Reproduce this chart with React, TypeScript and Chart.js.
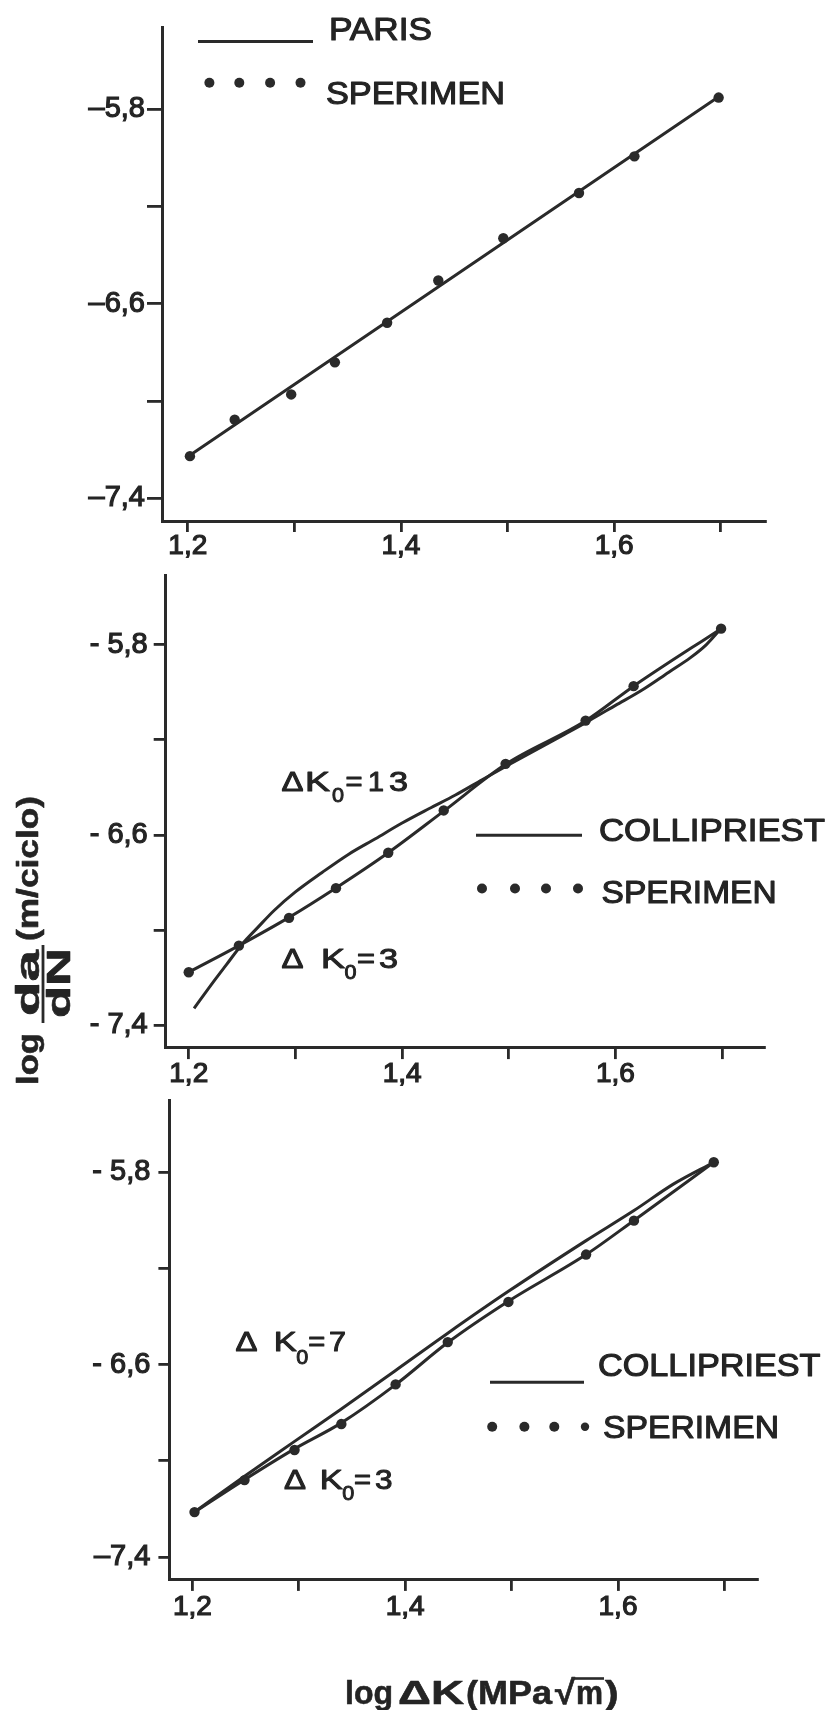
import React, { useEffect, useRef } from "react";
import { Chart, registerables } from "chart.js";

Chart.register(...registerables);

// ---------- tick definitions ----------
const xTickValues = [1.2, 1.3, 1.4, 1.5, 1.6, 1.7];
const xTickLabels = ["1,2", "", "1,4", "", "1,6", ""];
const yTickValues = [-7.4, -7.0, -6.6, -6.2, -5.8];
const p1YTickLabels = ["\u20137,4", "", "\u20136,6", "", "\u20135,8"];
const p2YTickLabels = ["- 7,4", "", "- 6,6", "", "- 5,8"];
const p3YTickLabels = ["\u20137,4", "", "- 6,6", "", "- 5,8"];

// ---------- panel 1 : PARIS ----------
const p1ExpX = [1.202, 1.244, 1.297, 1.338, 1.387, 1.435, 1.496, 1.567, 1.619, 1.698];
const p1ExpY = [-7.227, -7.077, -6.973, -6.841, -6.678, -6.504, -6.33, -6.144, -5.993, -5.751];
const parisX = [1.202, 1.698];
const parisY = [-7.223, -5.748];

// ---------- panel 2 : COLLIPRIEST dK0 = 3 / 13 ----------
const p2ExpX = [1.2, 1.247, 1.294, 1.338, 1.387, 1.439, 1.497, 1.572, 1.617, 1.699];
const p2ExpY = [-7.178, -7.066, -6.949, -6.824, -6.675, -6.497, -6.301, -6.119, -5.974, -5.732];
const p2K3X = [1.2, 1.247, 1.294, 1.338, 1.387, 1.439, 1.497, 1.572, 1.617, 1.699];
const p2K3Y = [-7.178, -7.066, -6.947, -6.823, -6.675, -6.5, -6.303, -6.12, -5.974, -5.732];
const p2K13X = [1.205, 1.215, 1.225, 1.235, 1.25, 1.265, 1.28, 1.3, 1.325, 1.35, 1.375, 1.4, 1.425, 1.45, 1.475, 1.5, 1.525, 1.55, 1.575, 1.6, 1.625, 1.65, 1.67, 1.685, 1.699];
const p2K13Y = [-7.33, -7.268, -7.207, -7.148, -7.06, -6.988, -6.918, -6.84, -6.758, -6.681, -6.616, -6.55, -6.49, -6.432, -6.368, -6.305, -6.243, -6.182, -6.12, -6.055, -5.99, -5.915, -5.855, -5.8, -5.731];

// ---------- panel 3 : COLLIPRIEST dK0 = 3 / 7 ----------
const p3ExpX = [1.202, 1.249, 1.296, 1.34, 1.391, 1.44, 1.497, 1.57, 1.615, 1.69];
const p3ExpY = [-7.213, -7.08, -6.955, -6.847, -6.682, -6.506, -6.339, -6.142, -6.001, -5.758];
const p3K3X = [1.202, 1.249, 1.296, 1.34, 1.391, 1.44, 1.497, 1.57, 1.615, 1.69];
const p3K3Y = [-7.213, -7.078, -6.95, -6.842, -6.683, -6.508, -6.336, -6.142, -6.0, -5.758];
const p3K7X = [1.202, 1.248, 1.295, 1.339, 1.39, 1.44, 1.497, 1.57, 1.615, 1.652, 1.69];
const p3K7Y = [-7.213, -7.067, -6.922, -6.787, -6.627, -6.469, -6.295, -6.084, -5.959, -5.849, -5.758];

// ---------- styling ----------
const INK = "#2a2a2a";
const TEXT = "#242424";
const FONT = "'Liberation Sans', Arial, Helvetica, sans-serif";

const xy = (xs: number[], ys: number[]) => xs.map((x, i) => ({ x, y: ys[i] }));

const lineDs = (xs: number[], ys: number[]) => ({
  data: xy(xs, ys),
  showLine: true,
  borderColor: INK,
  borderWidth: 3,
  pointRadius: 0,
  pointHoverRadius: 0,
  cubicInterpolationMode: "monotone",
  fill: false,
});

const dotDs = (xs: number[], ys: number[]) => ({
  data: xy(xs, ys),
  showLine: false,
  pointRadius: 5.2,
  pointHoverRadius: 5.2,
  pointBackgroundColor: INK,
  pointBorderColor: INK,
  pointBorderWidth: 0,
  borderColor: INK,
  backgroundColor: INK,
});

// ---------- drawing helpers (page coordinates) ----------
function fitText(ctx: CanvasRenderingContext2D, text: string, x: number, baseline: number, width: number, size: number, weight = "normal", stroke = 1.1) {
  ctx.save();
  ctx.font = `${weight} ${size}px ${FONT}`;
  ctx.textAlign = "left";
  ctx.textBaseline = "alphabetic";
  const w = ctx.measureText(text).width || 1;
  const sx = width / w;
  ctx.translate(x, baseline);
  ctx.scale(sx, 1);
  ctx.fillStyle = TEXT;
  ctx.fillText(text, 0, 0);
  if (stroke > 0) {
    ctx.lineWidth = stroke;
    ctx.lineJoin = "round";
    ctx.strokeStyle = TEXT;
    ctx.strokeText(text, 0, 0);
  }
  ctx.restore();
}

function rotText(ctx: CanvasRenderingContext2D, text: string, baseX: number, startY: number, length: number, size: number, weight = "bold") {
  ctx.save();
  ctx.font = `${weight} ${size}px ${FONT}`;
  ctx.textAlign = "left";
  ctx.textBaseline = "alphabetic";
  const w = ctx.measureText(text).width || 1;
  ctx.translate(baseX, startY);
  ctx.rotate(-Math.PI / 2);
  ctx.scale(length / w, 1);
  ctx.fillStyle = TEXT;
  ctx.fillText(text, 0, 0);
  ctx.lineWidth = 0.6;
  ctx.lineJoin = "round";
  ctx.strokeStyle = TEXT;
  ctx.strokeText(text, 0, 0);
  ctx.restore();
}

function hLine(ctx: CanvasRenderingContext2D, x1: number, x2: number, y: number, w = 3) {
  ctx.save();
  ctx.beginPath();
  ctx.moveTo(x1, y);
  ctx.lineTo(x2, y);
  ctx.lineWidth = w;
  ctx.strokeStyle = INK;
  ctx.stroke();
  ctx.restore();
}

function vLine(ctx: CanvasRenderingContext2D, x: number, y1: number, y2: number, w = 2.8) {
  ctx.save();
  ctx.beginPath();
  ctx.moveTo(x, y1);
  ctx.lineTo(x, y2);
  ctx.lineWidth = w;
  ctx.strokeStyle = INK;
  ctx.stroke();
  ctx.restore();
}

function dots(ctx: CanvasRenderingContext2D, xs: number[], y: number, r = 5) {
  ctx.save();
  ctx.fillStyle = INK;
  xs.forEach((x) => {
    ctx.beginPath();
    ctx.arc(x, y, r, 0, Math.PI * 2);
    ctx.fill();
  });
  ctx.restore();
}

type Part = { t: string; x: number; w: number; sub?: boolean };
function annot(ctx: CanvasRenderingContext2D, parts: Part[], baseline: number, subDrop: number) {
  parts.forEach((p) => {
    if (p.sub) fitText(ctx, p.t, p.x, baseline + subDrop, p.w, 20, "normal", 0.9);
    else fitText(ctx, p.t, p.x, baseline, p.w, 27, "normal", 1.0);
  });
}

// ---------- chart configuration ----------
type Panel = {
  offset: number;
  height: number;
  left: number;
  right: number;
  top: number;
  bottom: number;
  xMin: number;
  xMax: number;
  yMin: number;
  yMax: number;
  yLabels: string[];
  yTickLen: number;
  yTickPad: number;
  xTickLen: number;
  xTickPad: number;
  datasets: any[];
  decor: (ctx: CanvasRenderingContext2D) => void;
};

function labelFor(values: number[], labels: string[], v: number) {
  const i = values.findIndex((t) => Math.abs(t - v) < 1e-6);
  return i >= 0 ? labels[i] : "";
}

function buildConfig(p: Panel): any {
  const xHeight = p.offset + p.height - p.bottom;
  return {
    type: "scatter",
    data: { datasets: p.datasets },
    options: {
      responsive: false,
      animation: false,
      devicePixelRatio: 1,
      events: [],
      layout: { padding: { left: 0, right: 830 - p.right, top: p.top - p.offset, bottom: 0 } },
      plugins: { legend: { display: false }, tooltip: { enabled: false }, title: { display: false } },
      scales: {
        x: {
          type: "linear",
          min: p.xMin,
          max: p.xMax,
          afterBuildTicks: (s: any) => {
            s.ticks = xTickValues.map((v) => ({ value: v }));
          },
          afterFit: (s: any) => {
            s.height = xHeight;
            s.paddingLeft = 0;
            s.paddingRight = 0;
          },
          ticks: {
            autoSkip: false,
            maxRotation: 0,
            minRotation: 0,
            padding: p.xTickPad,
            color: TEXT,
            font: { family: FONT, size: 28, lineHeight: 1 },
            textStrokeColor: TEXT,
            textStrokeWidth: 1.2,
            callback: (v: number) => labelFor(xTickValues, xTickLabels, v),
          },
          grid: { drawOnChartArea: false, drawTicks: true, tickLength: p.xTickLen, color: INK, lineWidth: 2.8, tickColor: INK, tickWidth: 2.8 },
          border: { display: true, color: INK, width: 3 },
        },
        y: {
          type: "linear",
          min: p.yMin,
          max: p.yMax,
          afterBuildTicks: (s: any) => {
            s.ticks = yTickValues.map((v) => ({ value: v }));
          },
          afterFit: (s: any) => {
            s.width = p.left;
            s.paddingTop = 0;
            s.paddingBottom = 0;
          },
          ticks: {
            autoSkip: false,
            padding: p.yTickPad,
            color: TEXT,
            font: { family: FONT, size: 29, lineHeight: 1 },
            textStrokeColor: TEXT,
            textStrokeWidth: 1.2,
            callback: (v: number) => labelFor(yTickValues, p.yLabels, v),
          },
          grid: { drawOnChartArea: false, drawTicks: true, tickLength: p.yTickLen, color: INK, lineWidth: 2.8, tickColor: INK, tickWidth: 2.8 },
          border: { display: true, color: INK, width: 3 },
        },
      },
    },
    plugins: [
      {
        id: "decor",
        afterDraw(chart: any) {
          const ctx = chart.ctx as CanvasRenderingContext2D;
          ctx.save();
          ctx.translate(0, -p.offset);
          p.decor(ctx);
          ctx.restore();
        },
      },
    ],
  };
}

const panel1: Panel = {
  offset: 0,
  height: 565,
  left: 162,
  right: 765,
  top: 27.6,
  bottom: 521,
  xMin: 1.1758,
  xMax: 1.7415,
  yMin: -7.494,
  yMax: -5.463,
  yLabels: p1YTickLabels,
  yTickLen: 15,
  yTickPad: 2,
  xTickLen: 11,
  xTickPad: 0,
  datasets: [dotDs(p1ExpX, p1ExpY), lineDs(parisX, parisY)],
  decor: (ctx) => {
    hLine(ctx, 198, 313, 41.4);
    fitText(ctx, "PARIS", 329, 39.5, 103, 31);
    dots(ctx, [209.4, 239.3, 270.1, 300.5], 82.8);
    fitText(ctx, "SPERIMEN", 326, 103.5, 179, 31);
  },
};

const panel2: Panel = {
  offset: 560,
  height: 535,
  left: 165.7,
  right: 764.4,
  top: 575.9,
  bottom: 1047.1,
  xMin: 1.1784,
  xMax: 1.7396,
  yMin: -7.493,
  yMax: -5.51,
  yLabels: p2YTickLabels,
  yTickLen: 12,
  yTickPad: 6,
  xTickLen: 12,
  xTickPad: 1,
  datasets: [dotDs(p2ExpX, p2ExpY), lineDs(p2K3X, p2K3Y), lineDs(p2K13X, p2K13Y)],
  decor: (ctx) => {
    hLine(ctx, 476, 582, 835.2);
    fitText(ctx, "COLLIPRIEST", 599, 841, 226, 31);
    dots(ctx, [482, 515, 546, 578], 888.5);
    fitText(ctx, "SPERIMEN", 601.6, 902.5, 175, 31);
    annot(
      ctx,
      [
        { t: "\u0394", x: 281.6, w: 22 },
        { t: "K", x: 305, w: 25 },
        { t: "0", x: 332, w: 12, sub: true },
        { t: "=", x: 345.5, w: 17 },
        { t: "1", x: 368, w: 16 },
        { t: "3", x: 389, w: 19 },
      ],
      790.6,
      11.4
    );
    annot(
      ctx,
      [
        { t: "\u0394", x: 281.6, w: 22 },
        { t: "K", x: 321, w: 24 },
        { t: "0", x: 344.5, w: 12, sub: true },
        { t: "=", x: 357, w: 18 },
        { t: "3", x: 379, w: 19 },
      ],
      967.6,
      11.4
    );
    // y axis title: log da/dN (m/ciclo)
    rotText(ctx, "log", 38.3, 1085, 52, 30);
    rotText(ctx, "da", 39, 1016, 66, 33);
    vLine(ctx, 43, 1023, 945, 2.8);
    rotText(ctx, "dN", 70, 1018, 70, 33);
    rotText(ctx, "(m/ciclo)", 37.5, 941, 145, 30);
  },
};

const panel3: Panel = {
  offset: 1095,
  height: 615,
  left: 169.4,
  right: 757.5,
  top: 1099.4,
  bottom: 1579.4,
  xMin: 1.1784,
  xMax: 1.7311,
  yMin: -7.493,
  yMax: -5.5,
  yLabels: p3YTickLabels,
  yTickLen: 11,
  yTickPad: 8,
  xTickLen: 11.5,
  xTickPad: 2,
  datasets: [dotDs(p3ExpX, p3ExpY), lineDs(p3K3X, p3K3Y), lineDs(p3K7X, p3K7Y)],
  decor: (ctx) => {
    hLine(ctx, 490, 584, 1382.2);
    fitText(ctx, "COLLIPRIEST", 598, 1376.2, 222.5, 31);
    dots(ctx, [492.2, 524.4, 554.3], 1426.8);
    dots(ctx, [585], 1426.8, 4.2);
    fitText(ctx, "SPERIMEN", 603, 1438, 176, 31);
    annot(
      ctx,
      [
        { t: "\u0394", x: 235.6, w: 22 },
        { t: "K", x: 273.8, w: 23 },
        { t: "0", x: 296.3, w: 12, sub: true },
        { t: "=", x: 308.3, w: 17 },
        { t: "7", x: 329, w: 17 },
      ],
      1351,
      13
    );
    annot(
      ctx,
      [
        { t: "\u0394", x: 284, w: 22 },
        { t: "K", x: 319.8, w: 23 },
        { t: "0", x: 342.3, w: 12, sub: true },
        { t: "=", x: 354, w: 17 },
        { t: "3", x: 375, w: 17.5 },
      ],
      1488.9,
      11.5
    );
    // x axis title: log ΔK (MPa √m)
    fitText(ctx, "log", 345, 1704, 48, 34, "bold", 0.6);
    fitText(ctx, "\u0394K", 398, 1704, 66, 34, "bold", 0.6);
    fitText(ctx, "(MPa", 466, 1704, 86, 34, "bold", 0.6);
    fitText(ctx, "\u221A", 555, 1704, 20, 34, "bold", 0.6);
    fitText(ctx, "m", 576, 1704, 27, 34, "bold", 0.6);
    fitText(ctx, ")", 605, 1704, 13.6, 34, "bold", 0.6);
    hLine(ctx, 572, 604, 1678.5, 2.6);
  },
};

export default function App() {
  const r1 = useRef<HTMLCanvasElement>(null);
  const r2 = useRef<HTMLCanvasElement>(null);
  const r3 = useRef<HTMLCanvasElement>(null);

  useEffect(() => {
    const charts: Chart[] = [];
    if (r1.current) charts.push(new Chart(r1.current, buildConfig(panel1)));
    if (r2.current) charts.push(new Chart(r2.current, buildConfig(panel2)));
    if (r3.current) charts.push(new Chart(r3.current, buildConfig(panel3)));
    return () => charts.forEach((c) => c.destroy());
  }, []);

  const cs = (top: number, h: number): React.CSSProperties => ({
    position: "absolute",
    left: 0,
    top,
    width: 830,
    height: h,
    display: "block",
  });

  return (
    <div style={{ position: "absolute", left: 0, top: 0, width: 830, height: 1710, background: "#ffffff", overflow: "hidden" }}>
      <canvas ref={r1} width={830} height={panel1.height} style={cs(panel1.offset, panel1.height)} />
      <canvas ref={r2} width={830} height={panel2.height} style={cs(panel2.offset, panel2.height)} />
      <canvas ref={r3} width={830} height={panel3.height} style={cs(panel3.offset, panel3.height)} />
    </div>
  );
}
